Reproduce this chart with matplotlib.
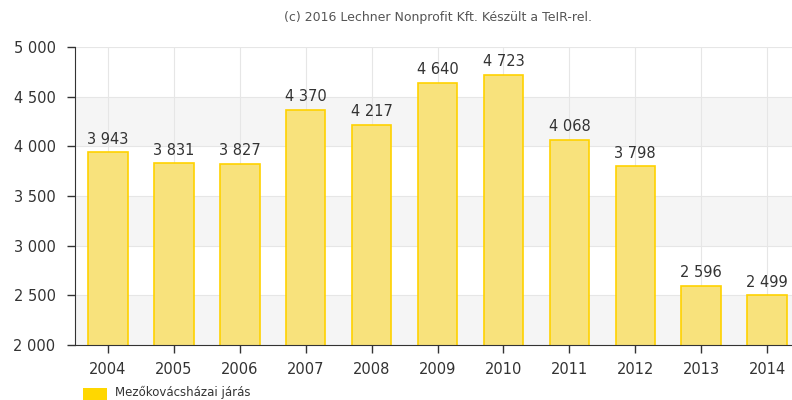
import matplotlib.pyplot as plt
import numpy as np

years = ['2004', '2005', '2006', '2007', '2008', '2009', '2010', '2011', '2012', '2013', '2014']
values = [3943, 3831, 3827, 4370, 4217, 4640, 4723, 4068, 3798, 2596, 2499]
series_name = 'Mezőkovácsházai járás'
credit = '(c) 2016 Lechner Nonprofit Kft. Készült a TeIR-rel.'

fig = plt.figure(figsize=(7.92, 4.0), dpi=100)
ax = fig.add_axes([75 / 792, 55 / 400, 717 / 792, 298 / 400])

x = np.arange(len(years))

# alternating bands
for lo in (2000, 3000, 4000):
    ax.axhspan(lo, lo + 500, color='#f5f5f5', zorder=0, lw=0)
ax.yaxis.grid(True, color='#e6e6e6', lw=0.8, zorder=1)
ax.xaxis.grid(True, color='#e6e6e6', lw=0.8, zorder=1)

ax.bar(x, values, width=0.6, facecolor='#f8e27c', edgecolor='#ffd200', lw=1.2, zorder=2)
for xi, v in zip(x, values):
    lbl = f'{v:,}'.replace(',', ' ')
    ax.text(xi, v + 55, lbl, ha='center', va='bottom', fontsize=10.5, color='#333333', zorder=3)

ax.set_ylim(2000, 5000)
ax.set_xlim(-0.5, 10.5 - 8 / 65.2)
ax.set_yticks(range(2000, 5001, 500))
ax.set_yticklabels([f'{t:,}'.replace(',', ' ') for t in range(2000, 5001, 500)])
ax.set_xticks(x)
ax.set_xticklabels(years)
ax.tick_params(axis='both', colors='#333333', labelsize=10.5, length=6, width=1)
ax.tick_params(axis='y', pad=8)
ax.tick_params(axis='x', pad=6)
for s in ('top', 'right'):
    ax.spines[s].set_visible(False)
ax.spines['left'].set_color('#333333')
ax.spines['bottom'].set_color('#333333')

fig.text(438 / 792, 1 - 17 / 400, credit, ha='center', va='center', fontsize=9, color='#555555')

# legend at bottom
fig.patches.append(plt.Rectangle((83 / 792, 0), 24 / 792, 12 / 400, transform=fig.transFigure,
                                 facecolor='#ffd700', edgecolor='none'))
fig.text(115 / 792, 1 / 400, series_name, ha='left', va='bottom', fontsize=8.5, color='#333333')

fig.savefig('out.png', dpi=100)
